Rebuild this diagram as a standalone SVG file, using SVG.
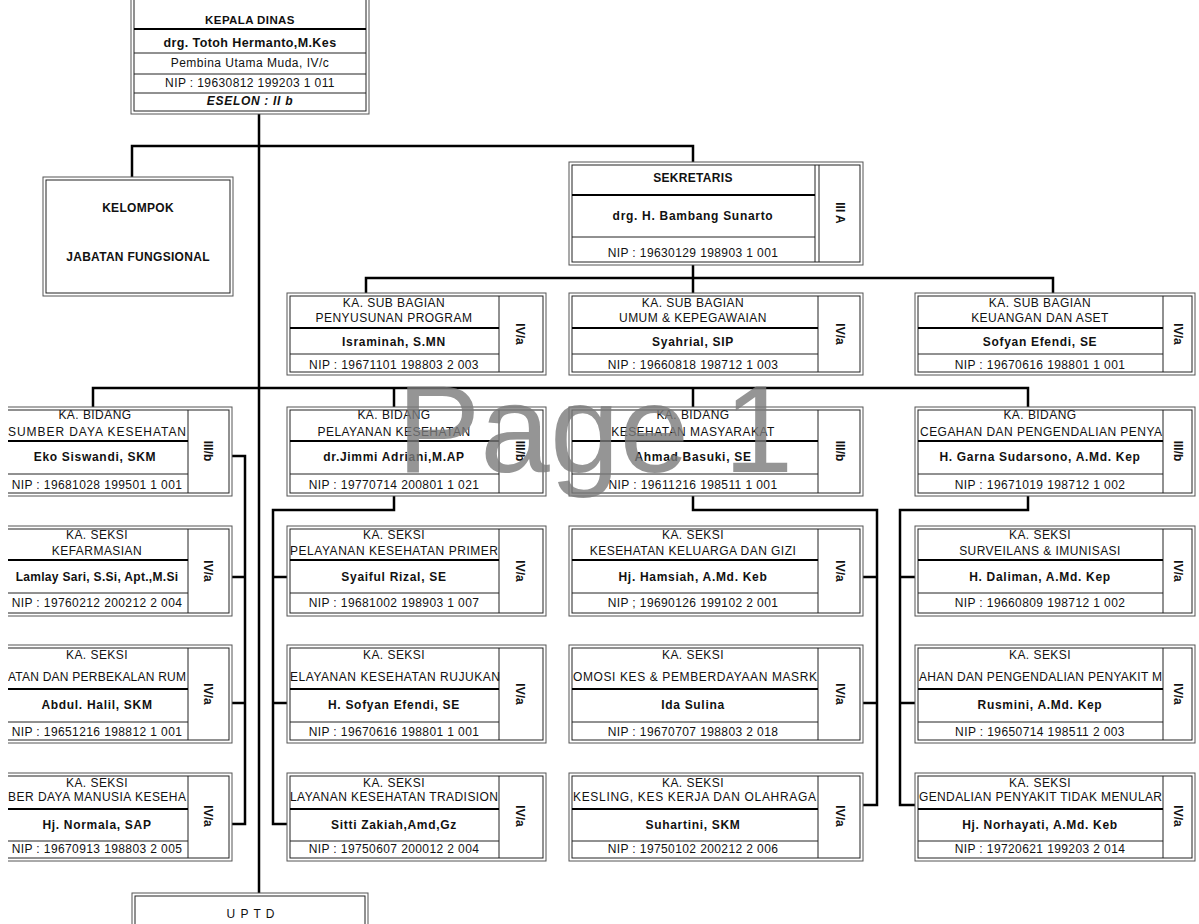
<svg xmlns="http://www.w3.org/2000/svg" width="1199" height="924" viewBox="0 0 1199 924">
<style>
.o{fill:#fff;stroke:#555;stroke-width:1}
.i{fill:#fff;stroke:#222;stroke-width:1}
.t{stroke:#222;stroke-width:1}
.k{stroke:#000;stroke-width:2.2}
.c{fill:none;stroke:#000;stroke-width:2.5}
text{font-family:"Liberation Sans",Arial,sans-serif;fill:#111;text-anchor:middle}
.h{font-size:12px;letter-spacing:0.45px}
.n{font-size:12px;font-weight:bold;letter-spacing:0.7px}
.p{font-size:12px;letter-spacing:0.4px}
.g{font-size:12px;font-weight:bold}
.s{text-anchor:start;letter-spacing:0}
.wm{font-size:125px;fill:#7a7a7a;fill-opacity:0.8;text-anchor:start}
</style>
<defs>
<clipPath id="c1"><rect x="8" y="0" width="300" height="924"/></clipPath>
</defs>
<rect x="0" y="0" width="1199" height="924" fill="#fff"/>

<g id="connectors">
<path class="c" d="M259 114V893"/>
<path class="c" d="M132 177V146H693V162"/>
<path class="c" d="M693 265V278M366 293V278H1053V293M693 278V293"/>
<path class="c" d="M93 407V388H1028V407M394 388V407M693 388V407"/>
<path class="c" d="M232 456H245V824H232M232 577H245M232 703H245"/>
<path class="c" d="M394 496V510H273V824H287M273 577H287M273 703H287"/>
<path class="c" d="M693 496V510H877V805H863M863 577H877M863 703H877"/>
<path class="c" d="M1028 496V510H900V805H915M900 577H915M900 703H915"/>
</g>

<g id="kepala-dinas">
<rect class="o" x="131" y="-10" width="238" height="124"/>
<rect class="i" x="134" y="-7" width="232" height="118"/>
<line class="k" x1="134" y1="29" x2="366" y2="29"/>
<line class="t" x1="134" y1="53" x2="366" y2="53"/>
<line class="t" x1="134" y1="74" x2="366" y2="74"/>
<line class="t" x1="134" y1="93" x2="366" y2="93"/>
<text class="n" x="250" y="24" style="font-size:11.5px;letter-spacing:0.4px">KEPALA DINAS</text>
<text class="n" x="250" y="47" style="font-size:12.5px;letter-spacing:0.4px">drg. Totoh Hermanto,M.Kes</text>
<text class="p" x="250" y="67" style="letter-spacing:0.5px">Pembina Utama Muda, IV/c</text>
<text class="p" x="250" y="87">NIP : 19630812 199203 1 011</text>
<text class="n" x="250" y="105" style="font-style:italic">ESELON : II b</text>
</g>

<g id="kelompok-jabatan-fungsional">
<rect class="o" x="43" y="177" width="190" height="119"/>
<rect class="i" x="46" y="180" width="184" height="113"/>
<text class="n" x="138" y="212" style="letter-spacing:0.3px">KELOMPOK</text>
<text class="n" x="138" y="261" style="letter-spacing:0.3px">JABATAN FUNGSIONAL</text>
</g>

<g id="sekretaris">
<rect class="o" x="569" y="162" width="294" height="103"/>
<rect class="i" x="572" y="165" width="288" height="97"/>
<line class="t" x1="815" y1="165" x2="815" y2="262"/>
<line class="t" x1="819" y1="165" x2="819" y2="262"/>
<line class="k" x1="572" y1="195" x2="815" y2="195"/>
<line class="t" x1="572" y1="237" x2="815" y2="237"/>
<text class="n" x="693" y="182" style="letter-spacing:0.3px">SEKRETARIS</text>
<text class="n" x="693" y="220">drg. H. Bambang Sunarto</text>
<text class="p" x="693" y="257">NIP : 19630129 198903 1 001</text>
<text class="g" transform="translate(840,213) rotate(90)" y="4">III A</text>
</g>

<g id="subbag-penyusunan-program">
<rect class="o" x="287" y="293" width="259" height="82"/>
<rect class="i" x="290" y="296" width="253" height="76"/>
<line class="t" x1="499" y1="296" x2="499" y2="372"/>
<line class="k" x1="290" y1="328" x2="499" y2="328"/>
<line class="t" x1="290" y1="354" x2="499" y2="354"/>
<text class="h" x="394" y="307">KA. SUB BAGIAN</text>
<text class="h" x="394" y="322">PENYUSUNAN PROGRAM</text>
<text class="n" x="394" y="346">Israminah, S.MN</text>
<text class="p" x="394" y="369">NIP : 19671101 198803 2 003</text>
<text class="g" transform="translate(520,334) rotate(90)" y="4">IV/a</text>
</g>

<g id="subbag-umum-kepegawaian">
<rect class="o" x="569" y="293" width="294" height="82"/>
<rect class="i" x="572" y="296" width="288" height="76"/>
<line class="t" x1="818" y1="296" x2="818" y2="372"/>
<line class="k" x1="572" y1="328" x2="818" y2="328"/>
<line class="t" x1="572" y1="354" x2="818" y2="354"/>
<text class="h" x="693" y="307">KA. SUB BAGIAN</text>
<text class="h" x="693" y="322">UMUM &amp; KEPEGAWAIAN</text>
<text class="n" x="693" y="346">Syahrial, SIP</text>
<text class="p" x="693" y="369">NIP : 19660818 198712 1 003</text>
<text class="g" transform="translate(840,334) rotate(90)" y="4">IV/a</text>
</g>

<g id="subbag-keuangan-aset">
<rect class="o" x="915" y="293" width="280" height="82"/>
<rect class="i" x="918" y="296" width="274" height="76"/>
<line class="t" x1="1163" y1="296" x2="1163" y2="372"/>
<line class="k" x1="918" y1="328" x2="1163" y2="328"/>
<line class="t" x1="918" y1="354" x2="1163" y2="354"/>
<text class="h" x="1040" y="307">KA. SUB BAGIAN</text>
<text class="h" x="1040" y="322">KEUANGAN DAN ASET</text>
<text class="n" x="1040" y="346">Sofyan Efendi, SE</text>
<text class="p" x="1040" y="369">NIP : 19670616 198801 1 001</text>
<text class="g" transform="translate(1178,334) rotate(90)" y="4">IV/a</text>
</g>

<g id="bidang-sdk" clip-path="url(#c1)">
<rect class="o" x="-6" y="407" width="238" height="89"/>
<rect class="i" x="-3" y="410" width="232" height="83"/>
<line class="t" x1="188" y1="410" x2="188" y2="493"/>
<line class="k" x1="-3" y1="441" x2="188" y2="441"/>
<line class="t" x1="-3" y1="474" x2="188" y2="474"/>
<text class="h" x="95" y="419">KA. BIDANG</text>
<text class="h s" x="8" y="436" textLength="178" lengthAdjust="spacing">SUMBER DAYA KESEHATAN</text>
<text class="n" x="95" y="461">Eko Siswandi, SKM</text>
<text class="p" x="97" y="489">NIP : 19681028 199501 1 001</text>
<text class="g" transform="translate(208,451) rotate(90)" y="4">III/b</text>
</g>

<g id="bidang-pelayanan-kesehatan">
<rect class="o" x="287" y="407" width="259" height="89"/>
<rect class="i" x="290" y="410" width="253" height="83"/>
<line class="t" x1="499" y1="410" x2="499" y2="493"/>
<line class="k" x1="290" y1="441" x2="499" y2="441"/>
<line class="t" x1="290" y1="474" x2="499" y2="474"/>
<text class="h" x="394" y="419">KA. BIDANG</text>
<text class="h" x="394" y="436">PELAYANAN KESEHATAN</text>
<text class="n" x="394" y="461">dr.Jimmi Adriani,M.AP</text>
<text class="p" x="394" y="489">NIP : 19770714 200801 1 021</text>
<text class="g" transform="translate(520,451) rotate(90)" y="4">III/b</text>
</g>

<g id="bidang-kesmas">
<rect class="o" x="569" y="407" width="294" height="89"/>
<rect class="i" x="572" y="410" width="288" height="83"/>
<line class="t" x1="818" y1="410" x2="818" y2="493"/>
<line class="k" x1="572" y1="441" x2="818" y2="441"/>
<line class="t" x1="572" y1="474" x2="818" y2="474"/>
<text class="h" x="693" y="419">KA. BIDANG</text>
<text class="h" x="693" y="436">KESEHATAN MASYARAKAT</text>
<text class="n" x="693" y="461">Ahmad Basuki, SE</text>
<text class="p" x="693" y="489">NIP : 19611216 198511 1 001</text>
<text class="g" transform="translate(840,451) rotate(90)" y="4">III/b</text>
</g>

<g id="bidang-p2p">
<rect class="o" x="915" y="407" width="280" height="89"/>
<rect class="i" x="918" y="410" width="274" height="83"/>
<line class="t" x1="1163" y1="410" x2="1163" y2="493"/>
<line class="k" x1="918" y1="441" x2="1163" y2="441"/>
<line class="t" x1="918" y1="474" x2="1163" y2="474"/>
<text class="h" x="1040" y="419">KA. BIDANG</text>
<text class="h s" x="920" y="436" textLength="242" lengthAdjust="spacing">CEGAHAN DAN PENGENDALIAN PENYA</text>
<text class="n" x="1040" y="461">H. Garna Sudarsono, A.Md. Kep</text>
<text class="p" x="1040" y="489">NIP :  19671019 198712 1 002</text>
<text class="g" transform="translate(1178,451) rotate(90)" y="4">III/b</text>
</g>

<g id="seksi-kefarmasian" clip-path="url(#c1)">
<rect class="o" x="-6" y="526" width="238" height="90"/>
<rect class="i" x="-3" y="529" width="232" height="84"/>
<line class="t" x1="188" y1="529" x2="188" y2="613"/>
<line class="k" x1="-3" y1="560" x2="188" y2="560"/>
<line class="t" x1="-3" y1="593" x2="188" y2="593"/>
<text class="h" x="97" y="539">KA. SEKSI</text>
<text class="h" x="97" y="555">KEFARMASIAN</text>
<text class="n" x="97" y="581" style="letter-spacing:0.3px">Lamlay Sari, S.Si, Apt.,M.Si</text>
<text class="p" x="97" y="607">NIP : 19760212 200212 2 004</text>
<text class="g" transform="translate(208,571) rotate(90)" y="4">IV/a</text>
</g>

<g id="seksi-yankes-primer">
<rect class="o" x="287" y="526" width="259" height="90"/>
<rect class="i" x="290" y="529" width="253" height="84"/>
<line class="t" x1="499" y1="529" x2="499" y2="613"/>
<line class="k" x1="290" y1="560" x2="499" y2="560"/>
<line class="t" x1="290" y1="593" x2="499" y2="593"/>
<text class="h" x="394" y="539">KA. SEKSI</text>
<text class="h s" x="290" y="555" textLength="208" lengthAdjust="spacing">PELAYANAN KESEHATAN PRIMER</text>
<text class="n" x="394" y="581">Syaiful Rizal, SE</text>
<text class="p" x="394" y="607">NIP : 19681002 198903 1 007</text>
<text class="g" transform="translate(520,571) rotate(90)" y="4">IV/a</text>
</g>

<g id="seksi-kesga-gizi">
<rect class="o" x="569" y="526" width="294" height="90"/>
<rect class="i" x="572" y="529" width="288" height="84"/>
<line class="t" x1="818" y1="529" x2="818" y2="613"/>
<line class="k" x1="572" y1="560" x2="818" y2="560"/>
<line class="t" x1="572" y1="593" x2="818" y2="593"/>
<text class="h" x="693" y="539">KA. SEKSI</text>
<text class="h" x="693" y="555">KESEHATAN KELUARGA DAN GIZI</text>
<text class="n" x="693" y="581">Hj. Hamsiah, A.Md. Keb</text>
<text class="p" x="693" y="607">NIP ; 19690126 199102 2 001</text>
<text class="g" transform="translate(840,571) rotate(90)" y="4">IV/a</text>
</g>

<g id="seksi-surveilans">
<rect class="o" x="915" y="526" width="280" height="90"/>
<rect class="i" x="918" y="529" width="274" height="84"/>
<line class="t" x1="1163" y1="529" x2="1163" y2="613"/>
<line class="k" x1="918" y1="560" x2="1163" y2="560"/>
<line class="t" x1="918" y1="593" x2="1163" y2="593"/>
<text class="h" x="1040" y="539">KA. SEKSI</text>
<text class="h" x="1040" y="555">SURVEILANS &amp; IMUNISASI</text>
<text class="n" x="1040" y="581">H. Daliman, A.Md. Kep</text>
<text class="p" x="1040" y="607">NIP : 19660809 198712 1 002</text>
<text class="g" transform="translate(1178,571) rotate(90)" y="4">IV/a</text>
</g>

<g id="seksi-alkes" clip-path="url(#c1)">
<rect class="o" x="-6" y="645" width="238" height="98"/>
<rect class="i" x="-3" y="648" width="232" height="92"/>
<line class="t" x1="188" y1="648" x2="188" y2="740"/>
<line class="k" x1="-3" y1="689" x2="188" y2="689"/>
<line class="t" x1="-3" y1="722" x2="188" y2="722"/>
<text class="h" x="97" y="659">KA. SEKSI</text>
<text class="h s" x="8" y="681" textLength="178" lengthAdjust="spacing">ATAN DAN PERBEKALAN RUM</text>
<text class="n" x="97" y="709">Abdul. Halil, SKM</text>
<text class="p" x="97" y="736">NIP : 19651216 198812 1 001</text>
<text class="g" transform="translate(208,694) rotate(90)" y="4">IV/a</text>
</g>

<g id="seksi-yankes-rujukan">
<rect class="o" x="287" y="645" width="259" height="98"/>
<rect class="i" x="290" y="648" width="253" height="92"/>
<line class="t" x1="499" y1="648" x2="499" y2="740"/>
<line class="k" x1="290" y1="689" x2="499" y2="689"/>
<line class="t" x1="290" y1="722" x2="499" y2="722"/>
<text class="h" x="394" y="659">KA. SEKSI</text>
<text class="h s" x="290" y="681" textLength="210" lengthAdjust="spacing">ELAYANAN KESEHATAN RUJUKAN</text>
<text class="n" x="394" y="709">H. Sofyan Efendi, SE</text>
<text class="p" x="394" y="736">NIP : 19670616 198801 1 001</text>
<text class="g" transform="translate(520,694) rotate(90)" y="4">IV/a</text>
</g>

<g id="seksi-promkes">
<rect class="o" x="569" y="645" width="294" height="98"/>
<rect class="i" x="572" y="648" width="288" height="92"/>
<line class="t" x1="818" y1="648" x2="818" y2="740"/>
<line class="k" x1="572" y1="689" x2="818" y2="689"/>
<line class="t" x1="572" y1="722" x2="818" y2="722"/>
<text class="h" x="693" y="659">KA. SEKSI</text>
<text class="h s" x="573" y="681" textLength="244" lengthAdjust="spacing">OMOSI KES &amp; PEMBERDAYAAN MASRK</text>
<text class="n" x="693" y="709">Ida Sulina</text>
<text class="p" x="693" y="736">NIP :  19670707 198803 2 018</text>
<text class="g" transform="translate(840,694) rotate(90)" y="4">IV/a</text>
</g>

<g id="seksi-p2pm">
<rect class="o" x="915" y="645" width="280" height="98"/>
<rect class="i" x="918" y="648" width="274" height="92"/>
<line class="t" x1="1163" y1="648" x2="1163" y2="740"/>
<line class="k" x1="918" y1="689" x2="1163" y2="689"/>
<line class="t" x1="918" y1="722" x2="1163" y2="722"/>
<text class="h" x="1040" y="659">KA. SEKSI</text>
<text class="h s" x="919" y="681" textLength="243" lengthAdjust="spacing">AHAN DAN PENGENDALIAN PENYAKIT M</text>
<text class="n" x="1040" y="709">Rusmini, A.Md. Kep</text>
<text class="p" x="1040" y="736">NIP : 19650714 198511 2 003</text>
<text class="g" transform="translate(1178,694) rotate(90)" y="4">IV/a</text>
</g>

<g id="seksi-sdm-kesehatan" clip-path="url(#c1)">
<rect class="o" x="-6" y="773" width="238" height="88"/>
<rect class="i" x="-3" y="776" width="232" height="82"/>
<line class="t" x1="188" y1="776" x2="188" y2="858"/>
<line class="k" x1="-3" y1="809" x2="188" y2="809"/>
<line class="t" x1="-3" y1="841" x2="188" y2="841"/>
<text class="h" x="97" y="787">KA. SEKSI</text>
<text class="h s" x="8" y="801" textLength="178" lengthAdjust="spacing">BER DAYA MANUSIA KESEHA</text>
<text class="n" x="97" y="829">Hj. Normala, SAP</text>
<text class="p" x="97" y="853">NIP : 19670913 198803 2 005</text>
<text class="g" transform="translate(208,816) rotate(90)" y="4">IV/a</text>
</g>

<g id="seksi-yankes-tradisional">
<rect class="o" x="287" y="773" width="259" height="88"/>
<rect class="i" x="290" y="776" width="253" height="82"/>
<line class="t" x1="499" y1="776" x2="499" y2="858"/>
<line class="k" x1="290" y1="809" x2="499" y2="809"/>
<line class="t" x1="290" y1="841" x2="499" y2="841"/>
<text class="h" x="394" y="787">KA. SEKSI</text>
<text class="h s" x="290" y="801" textLength="208" lengthAdjust="spacing">LAYANAN KESEHATAN TRADISION</text>
<text class="n" x="394" y="829">Sitti Zakiah,Amd,Gz</text>
<text class="p" x="394" y="853">NIP :  19750607 200012 2 004</text>
<text class="g" transform="translate(520,816) rotate(90)" y="4">IV/a</text>
</g>

<g id="seksi-kesling">
<rect class="o" x="569" y="773" width="294" height="88"/>
<rect class="i" x="572" y="776" width="288" height="82"/>
<line class="t" x1="818" y1="776" x2="818" y2="858"/>
<line class="k" x1="572" y1="809" x2="818" y2="809"/>
<line class="t" x1="572" y1="841" x2="818" y2="841"/>
<text class="h" x="693" y="787">KA. SEKSI</text>
<text class="h s" x="573" y="801" textLength="243" lengthAdjust="spacing">KESLING, KES KERJA DAN OLAHRAGA</text>
<text class="n" x="693" y="829">Suhartini, SKM</text>
<text class="p" x="693" y="853">NIP : 19750102 200212 2 006</text>
<text class="g" transform="translate(840,816) rotate(90)" y="4">IV/a</text>
</g>

<g id="seksi-ptm">
<rect class="o" x="915" y="773" width="280" height="88"/>
<rect class="i" x="918" y="776" width="274" height="82"/>
<line class="t" x1="1163" y1="776" x2="1163" y2="858"/>
<line class="k" x1="918" y1="809" x2="1163" y2="809"/>
<line class="t" x1="918" y1="841" x2="1163" y2="841"/>
<text class="h" x="1040" y="787">KA. SEKSI</text>
<text class="h s" x="919" y="801" textLength="243" lengthAdjust="spacing">GENDALIAN PENYAKIT TIDAK MENULAR</text>
<text class="n" x="1040" y="829">Hj. Norhayati, A.Md. Keb</text>
<text class="p" x="1040" y="853">NIP : 19720621 199203 2 014</text>
<text class="g" transform="translate(1178,816) rotate(90)" y="4">IV/a</text>
</g>

<g id="uptd">
<rect class="o" x="132" y="893" width="236" height="50"/>
<rect class="i" x="135" y="896" width="230" height="44"/>
<text class="h" x="251" y="918" style="letter-spacing:1px">U P T D</text>
</g>

<text class="wm" x="397" y="472">Page 1</text>
</svg>
